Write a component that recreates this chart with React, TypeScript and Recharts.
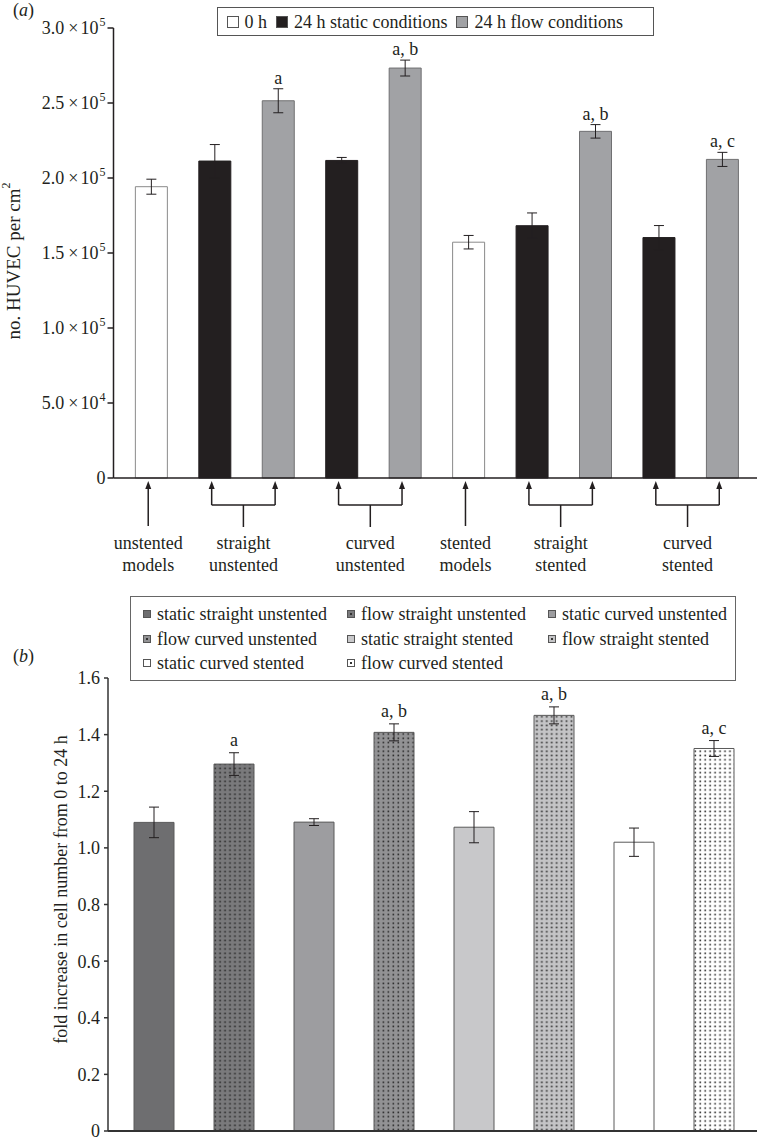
import React from "react";
import { BarChart, Bar, XAxis, YAxis, ErrorBar, Cell, LabelList } from "recharts";

const FONT = '"Liberation Serif", "Times New Roman", serif';
const INK = "#231f20";

// (a) cell counts per model and condition
const conditionNames = ["0 h", "24 h static conditions", "24 h flow conditions"];
const conditionFills = ["#ffffff", "#231f20", "#a1a2a5"];
const conditionStrokes = ["#8a8a8a", "#231f20", "#707072"];
const modelGroups = [
  ["unstented", "models"],
  ["straight", "unstented"],
  ["curved", "unstented"],
  ["stented", "models"],
  ["straight", "stented"],
  ["curved", "stented"],
];
const barGroup = [0, 1, 1, 2, 2, 3, 4, 4, 5, 5];
const barCondition = [0, 1, 2, 1, 2, 0, 1, 2, 1, 2];
const cellCount = [194200, 211300, 251500, 211700, 273300, 157200, 168200, 231100, 160300, 212400];
const cellCountErr = [5000, 11000, 8000, 2000, 5300, 4500, 8500, 4500, 8000, 4700];
const cellCountMarks = ["", "", "a", "", "a, b", "", "", "a, b", "", "a, c"];
const countTicks = [0, 50000, 100000, 150000, 200000, 250000, 300000];

// (b) fold increase 0 -> 24 h
const foldNames = [
  "static straight unstented",
  "flow straight unstented",
  "static curved unstented",
  "flow curved unstented",
  "static straight stented",
  "flow straight stented",
  "static curved stented",
  "flow curved stented",
];
const foldIncrease = [1.09, 1.296, 1.091, 1.408, 1.073, 1.468, 1.02, 1.351];
const foldErr = [0.054, 0.04, 0.012, 0.03, 0.055, 0.03, 0.05, 0.028];
const foldMarks = ["", "a", "", "a, b", "", "a, b", "", "a, c"];
const foldFills = ["#6e6e70", "#7a7a7c", "#9d9da0", "#929294", "#c8c8ca", "#c4c4c6", "#ffffff", "#ffffff"];
const foldDotted = [false, true, false, true, false, true, false, true];
const foldTicks = [0, 0.2, 0.4, 0.6, 0.8, 1.0, 1.2, 1.4, 1.6];

const countData = cellCount.map((v, i) => ({
  name: `${modelGroups[barGroup[i]].join(" ")} ${conditionNames[barCondition[i]]}`,
  count: v,
  err: cellCountErr[i],
}));
const foldData = foldIncrease.map((v, i) => ({ name: foldNames[i], fold: v, err: foldErr[i] }));

const fillFor = (i: number) => (foldDotted[i] ? `url(#dots-${i})` : foldFills[i]);

function SciTick({ x, y, payload }: any) {
  const v = payload.value;
  if (v === 0) {
    return (
      <text x={x} y={y + 6} textAnchor="end" fill={INK} fontSize={18} fontFamily={FONT}>0</text>
    );
  }
  const exp = Math.floor(Math.log10(v));
  const mant = (v / Math.pow(10, exp)).toFixed(1);
  return (
    <text x={x} y={y + 6} textAnchor="end" fill={INK} fontSize={18} fontFamily={FONT}>
      <tspan>{mant}</tspan>
      <tspan dx={4}>×</tspan>
      <tspan dx={2}>10</tspan>
      <tspan dx={1} dy={-8} fontSize={12}>{exp}</tspan>
    </text>
  );
}

// arrows + brackets under the bars of (a)
function ModelTick({ x, y, index, payload }: any) {
  const band = payload && payload.offset ? payload.offset * 2 : 63.45;
  const g = barGroup[index];
  const first = index === 0 || barGroup[index - 1] !== g;
  const last = index === barGroup.length - 1 || barGroup[index + 1] !== g;
  const single = first && last;
  const ax = x - 3;
  const shaftEnd = single ? y + 48 : y + 27;
  const head = `${ax},${y + 3} ${ax - 3},${y + 11} ${ax + 3},${y + 11}`;
  const labelX = single ? ax : ax + band / 2;
  return (
    <g>
      <polygon points={head} fill={INK} />
      <line x1={ax} x2={ax} y1={y + 9} y2={shaftEnd} stroke={INK} strokeWidth={1.5} />
      {first && !single && (
        <>
          <line x1={ax} x2={ax + band} y1={y + 27} y2={y + 27} stroke={INK} strokeWidth={1.5} />
          <line x1={labelX} x2={labelX} y1={y + 27} y2={y + 49} stroke={INK} strokeWidth={1.5} />
        </>
      )}
      {first && (
        <text textAnchor="middle" fill={INK} fontSize={18} fontFamily={FONT}>
          <tspan x={labelX} y={y + 71}>{modelGroups[g][0]}</tspan>
          <tspan x={labelX} y={y + 93}>{modelGroups[g][1]}</tspan>
        </text>
      )}
    </g>
  );
}

const markLabel = (marks: string[], errs: number[], gap: number) => (props: any) => {
  const { x, y, width, height, value, index } = props;
  const m = marks[index];
  if (!m) return null;
  const errPx = (errs[index] * Number(height)) / Number(value);
  return (
    <text x={Number(x) + Number(width) / 2} y={Number(y) - errPx - gap} textAnchor="middle"
      fill={INK} fontSize={18} fontFamily={FONT}>
      {m}
    </text>
  );
};

function AxisTitle({ viewBox, cx, dy, size, children }: any) {
  const cy = viewBox.y + viewBox.height / 2 + dy;
  return (
    <text x={cx} y={cy} transform={`rotate(-90 ${cx} ${cy})`} textAnchor="middle"
      dominantBaseline="central" fill={INK} fontSize={size} fontFamily={FONT}>
      {children}
    </text>
  );
}

function Marker({ i }: { i: number }) {
  return (
    <svg width={8} height={8} style={{ marginRight: 6, flex: "none" }}>
      <rect x={0.5} y={0.5} width={7} height={7} fill={foldFills[i]} stroke="#555" />
      {foldDotted[i] && <rect x={3} y={3} width={2} height={2} fill="#333" />}
    </svg>
  );
}

export default function App() {
  return (
    <div style={{ position: "absolute", left: 0, top: 0, width: 759, height: 1139, background: "#fff", fontFamily: FONT, color: INK }}>
      <svg width={0} height={0} style={{ position: "absolute" }}>
        <defs>
          {foldFills.map((c, i) =>
            foldDotted[i] ? (
              <pattern key={i} id={`dots-${i}`} width={4.95} height={4.3} patternUnits="userSpaceOnUse">
                <rect width={4.95} height={4.3} fill={c} />
                <rect x={1.5} y={1.3} width={1.6} height={1.6} fill="#2a2a2a" />
              </pattern>
            ) : null
          )}
        </defs>
      </svg>

      <div style={{ position: "absolute", left: 13, top: 0.5, fontSize: 18, lineHeight: 1 }}>
        (<i>a</i>)
      </div>
      <div style={{ position: "absolute", left: 0, top: 0 }}>
        <BarChart width={759} height={580} data={countData} barCategoryGap="25%"
          margin={{ top: 28, right: 2, left: 0, bottom: 0 }}>
          <XAxis dataKey="name" interval={0} tickLine={false} tickSize={0} tickMargin={0}
            tick={<ModelTick />} height={102} padding={{ left: 6, right: 3 }}
            axisLine={{ stroke: INK, strokeWidth: 1.5 }} />
          <YAxis width={113.5} domain={[0, 300000]} ticks={countTicks} interval={0}
            tick={<SciTick />} tickSize={6} tickMargin={2}
            tickLine={{ stroke: INK, strokeWidth: 1.5 }} axisLine={{ stroke: INK, strokeWidth: 1.5 }}
            label={
              <AxisTitle cx={13} dy={8} size={19}>
                no. HUVEC per cm<tspan dy={-7} fontSize={12}>2</tspan>
              </AxisTitle>
            } />
          <Bar dataKey="count" isAnimationActive={false} strokeWidth={1}>
            {countData.map((_, i) => (
              <Cell key={i} fill={conditionFills[barCondition[i]]} stroke={conditionStrokes[barCondition[i]]} />
            ))}
            <ErrorBar dataKey="err" width={5} stroke={INK} strokeWidth={1} direction="y" />
            <LabelList dataKey="count" content={markLabel(cellCountMarks, cellCountErr, 5)} />
          </Bar>
        </BarChart>
      </div>
      <div style={{ position: "absolute", left: 216.5, top: 7, width: 437, height: 29, boxSizing: "border-box",
        border: "1px solid #555", display: "flex", alignItems: "center", paddingLeft: 9, fontSize: 18, lineHeight: 1 }}>
        {conditionNames.map((n, i) => (
          <span key={n} style={{ display: "flex", alignItems: "center", marginRight: 9 }}>
            <span style={{ width: 12, height: 12, boxSizing: "border-box", border: "1px solid #555",
              background: conditionFills[i], marginRight: 6 }} />
            {n}
          </span>
        ))}
      </div>

      <div style={{ position: "absolute", left: 13, top: 647, fontSize: 18, lineHeight: 1 }}>
        (<i>b</i>)
      </div>
      <div style={{ position: "absolute", left: 0, top: 590 }}>
        <BarChart width={759} height={549} data={foldData} barCategoryGap="25%"
          margin={{ top: 88, right: 2, left: 0, bottom: 0 }}>
          <XAxis dataKey="name" tick={false} tickLine={false} height={8} padding={{ left: 6, right: 3 }}
            axisLine={{ stroke: "#333", strokeWidth: 2 }} />
          <YAxis width={108} domain={[0, 1.6]} ticks={foldTicks} interval={0}
            tickFormatter={(v: number) => (v === 0 ? "0" : v.toFixed(1))}
            tick={{ fill: INK, fontSize: 18, fontFamily: FONT }} tickSize={4} tickMargin={4}
            tickLine={{ stroke: "#333", strokeWidth: 1.5 }} axisLine={{ stroke: "#333", strokeWidth: 1.5 }}
            label={<AxisTitle cx={61} dy={-15} size={18}>fold increase in cell number from 0 to 24 h</AxisTitle>} />
          <Bar dataKey="fold" isAnimationActive={false} stroke="#5a5a5a" strokeWidth={1}>
            {foldData.map((_, i) => (
              <Cell key={i} fill={fillFor(i)} />
            ))}
            <ErrorBar dataKey="err" width={5} stroke={INK} strokeWidth={1} direction="y" />
            <LabelList dataKey="fold" content={markLabel(foldMarks, foldErr, 7)} />
          </Bar>
        </BarChart>
      </div>
      <div style={{ position: "absolute", left: 130, top: 596, width: 606, height: 85, boxSizing: "border-box",
        border: "1px solid #666", paddingTop: 5, paddingLeft: 12, display: "grid",
        gridTemplateColumns: "204px 201px 1fr", gridAutoRows: "24.5px", fontSize: 18, lineHeight: 1 }}>
        {foldNames.map((n, i) => (
          <div key={n} style={{ display: "flex", alignItems: "center", whiteSpace: "nowrap" }}>
            <Marker i={i} />
            {n}
          </div>
        ))}
      </div>
    </div>
  );
}
